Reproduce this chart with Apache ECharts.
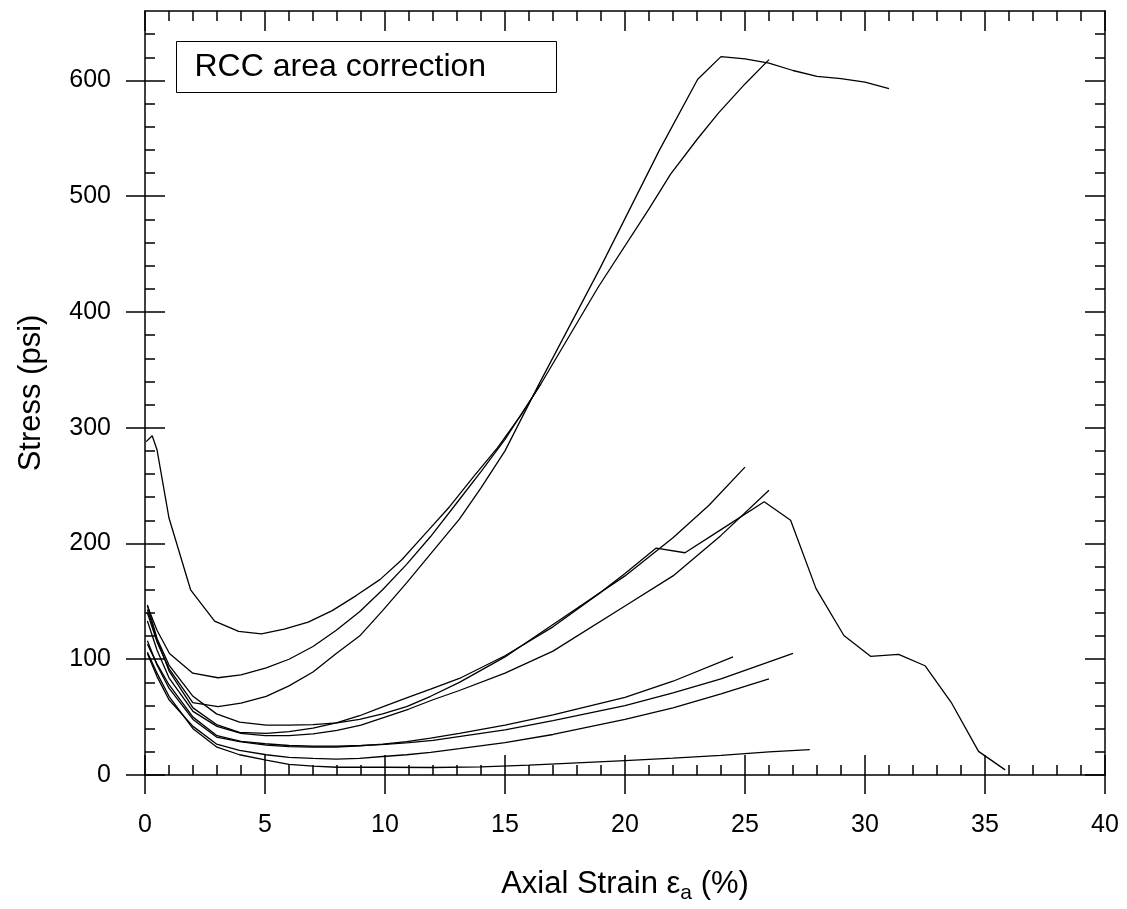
<!DOCTYPE html>
<html>
<head>
<meta charset="utf-8">
<script src="https://cdn.jsdelivr.net/npm/echarts@6/dist/echarts.min.js"></script>
<style>html,body{margin:0;padding:0;background:#fff}#c{width:1127px;height:909px}</style>
</head>
<body>
<div id="c"></div>
<script>
// Data: [axial strain %, stress psi]
const curveT1 = [[0.05,288],[0.3,293],[0.5,281],[1,222],[1.9,160],[2.9,133],[3.9,124],[4.85,122],[5.8,126],[6.8,132],[7.8,142],[8.8,155],[9.8,169],[10.7,186],[11.7,209],[12.7,232],[13.7,258],[14.7,283],[15.7,312],[16.5,338],[18.9,422],[21,489],[21.9,519],[23,549],[23.9,572],[25,597],[26,618]];
const curveT2 = [[0.1,146],[0.5,125],[1.02,105],[1.99,88],[3.04,84],[4,86.5],[5.05,92.6],[6,100],[7,111],[7.97,125],[8.94,141],[9.9,160],[10.9,182],[11.9,206],[13.1,238],[14,262],[15,290],[16.5,338]];
const curveT3 = [[0.1,140],[0.5,115],[1,92],[1.99,62.6],[3.04,59],[4,62],[5.05,68],[6,77],[7,89],[7.97,105],[8.94,120],[9.9,142],[10.9,166],[11.9,191],[13.1,221],[14,248],[15,280],[16.4,337],[18.94,437],[21.44,540],[23.03,601],[24,620.6],[25,618.6],[26,615],[27,608.6],[28,603.5],[29,601.5],[30,598.6],[31,593]];
const curveM1 = [[0.1,147],[0.5,118],[1,95],[2,68],[2.98,52.8],[3.94,45.7],[5.05,43],[6,43],[7,43.6],[8,45],[8.94,48],[9.9,52.8],[10.9,59],[11.9,68],[13.1,80],[15,102],[17,130],[20,172],[22,205],[23.5,233],[25,266]];
const curveM2 = [[0.1,133],[0.5,108],[1,84],[2,55],[3,42],[4,36],[5,34],[6,34],[7,35.5],[8,38.5],[9,43],[10,50],[11,57],[12,65],[13.1,73],[15,88],[17,107],[20,146],[22,172],[24,207],[26,246]];
const curveD = [[0.1,143],[0.5,117],[1,90],[2,58],[2.98,43.6],[3.94,36.8],[5.05,35.9],[6,37.4],[7,40.5],[7.97,45],[8.94,51.2],[9.9,58.9],[10.9,66.6],[11.9,74.2],[13.1,83.4],[15,103],[17,128],[19,158],[20,174],[21.3,196],[22.5,192],[24,212],[25.8,236],[26.9,220],[27.96,161],[29.12,120.5],[30.23,102.5],[31.4,104.2],[32.5,94.4],[33.59,62.8],[34.73,20.4],[35.84,4.4]];
const curveL1 = [[0.1,116],[0.5,95],[1,75],[2,48],[2.98,32.8],[3.94,28.8],[5.05,25.8],[6,24.5],[7,24.2],[7.97,24.2],[8.94,25.2],[9.9,26.7],[10.9,28.8],[11.9,31.9],[13.1,35.9],[15,43],[17,52],[20,67],[22,81],[24.5,102]];
const curveL2 = [[0.1,113],[0.5,96],[1,78],[2,50],[3,34],[4,29],[5,27],[6,25.5],[7,25],[8,25],[9,25.5],[10,26.5],[11,28],[12,30],[13,33],[15,39],[17,47],[20,60],[22,71],[24,83],[27,105]];
const curveL3 = [[0.1,105],[0.5,85],[1,65],[2,42],[2.98,26.7],[3.94,21.2],[5.05,17.5],[6,15.3],[7,14.4],[7.97,13.8],[8.94,14.4],[9.9,16],[10.9,17.5],[11.9,19.6],[13.1,22.7],[15,28],[17,35],[20,48],[22,58],[24,70],[26,83]];
const curveL4 = [[0.1,106],[0.5,88],[1,68],[2,40],[3,24],[3.94,17.5],[5.05,12.9],[6,9.2],[7,7.7],[8,6.7],[9,6.7],[10,6.7],[12,6.5],[14,7],[16,8.5],[18,10.5],[20,12.5],[22,14.5],[24,17],[26,20],[27.7,22]];
const curves = [curveT1, curveT2, curveT3, curveM1, curveM2, curveD, curveL1, curveL2, curveL3, curveL4];
const xTicks = [0,5,10,15,20,25,30,35,40];
const yTicks = [0,100,200,300,400,500,600];
const legendText = 'RCC area correction';

const chart = echarts.init(document.getElementById('c'), null, {renderer:'canvas'});
const FONT = 'Liberation Sans, Arial, sans-serif';
const lineStyle = {color:'#000', width:1.5};
const xBase = {type:'value', min:0, max:40, interval:5, gridIndex:0, splitLine:{show:false}};
const yBase = {type:'value', min:0, max:660, interval:100, gridIndex:0, splitLine:{show:false}};
const option = {
  animation:false,
  backgroundColor:'#fff',
  grid:{left:145, top:11, width:960, height:768, containLabel:false},
  xAxis:[
    Object.assign({}, xBase, {position:'bottom', axisLine:{show:true, onZero:false, lineStyle},
      axisTick:{show:true, inside:true, length:20, lineStyle},
      minorTick:{show:true, splitNumber:5, length:10, lineStyle},
      axisLabel:{show:true, margin:38, fontSize:25, color:'#000', fontFamily:FONT, formatter:v=>xTicks.includes(v)?String(v):''},
      name:'{n|Axial Strain ε}{s|a}{n| (%)}', nameLocation:'middle', nameGap:90,
      nameTextStyle:{rich:{n:{fontSize:31, fontFamily:FONT, color:'#000'}, s:{fontSize:21, fontFamily:FONT, color:'#000', verticalAlign:'bottom', padding:[18,0,0,0]}}}}),
    Object.assign({}, xBase, {position:'bottom', axisLine:{show:false}, axisTick:{show:true, inside:false, length:19, lineStyle, customValues:xTicks}, axisLabel:{show:false}}),
    Object.assign({}, xBase, {position:'top', axisLine:{show:true, onZero:false, lineStyle}, axisTick:{show:true, inside:true, length:20, lineStyle}, minorTick:{show:true, splitNumber:5, length:10, lineStyle}, axisLabel:{show:false}})
  ],
  yAxis:[
    Object.assign({}, yBase, {position:'left', axisLine:{show:true, onZero:false, lineStyle},
      axisTick:{show:true, inside:true, length:20, lineStyle, customValues:yTicks},
      minorTick:{show:true, splitNumber:5, length:10, lineStyle},
      axisLabel:{show:true, margin:34, fontSize:25, color:'#000', fontFamily:FONT, customValues:yTicks, formatter:v=>yTicks.includes(v)?String(v):''},
      name:'Stress (psi)', nameLocation:'middle', nameGap:98, nameRotate:90,
      nameTextStyle:{fontSize:31, fontFamily:FONT, color:'#000'}}),
    Object.assign({}, yBase, {position:'left', axisLine:{show:false}, axisTick:{show:true, inside:false, length:19, lineStyle, customValues:yTicks}, axisLabel:{show:false}}),
    Object.assign({}, yBase, {position:'right', axisLine:{show:true, onZero:false, lineStyle}, axisTick:{show:true, inside:true, length:20, lineStyle, customValues:yTicks}, minorTick:{show:true, splitNumber:5, length:10, lineStyle}, axisLabel:{show:false}})
  ],
  series: curves.map(d => ({type:'line', data:d, xAxisIndex:0, yAxisIndex:0, symbol:'none', smooth:false, lineStyle:{color:'#000', width:1.3}, silent:true})),
  graphic:[{type:'group', left:176, top:41, children:[
    {type:'rect', shape:{x:0, y:0, width:380, height:51}, style:{fill:'#fff', stroke:'#000', lineWidth:1}},
    {type:'text', x:18, y:26, style:{text:legendText, font:'32px '+FONT, fill:'#000', textVerticalAlign:'middle'}}
  ]}]
};
chart.setOption(option);
</script>
</body>
</html>
